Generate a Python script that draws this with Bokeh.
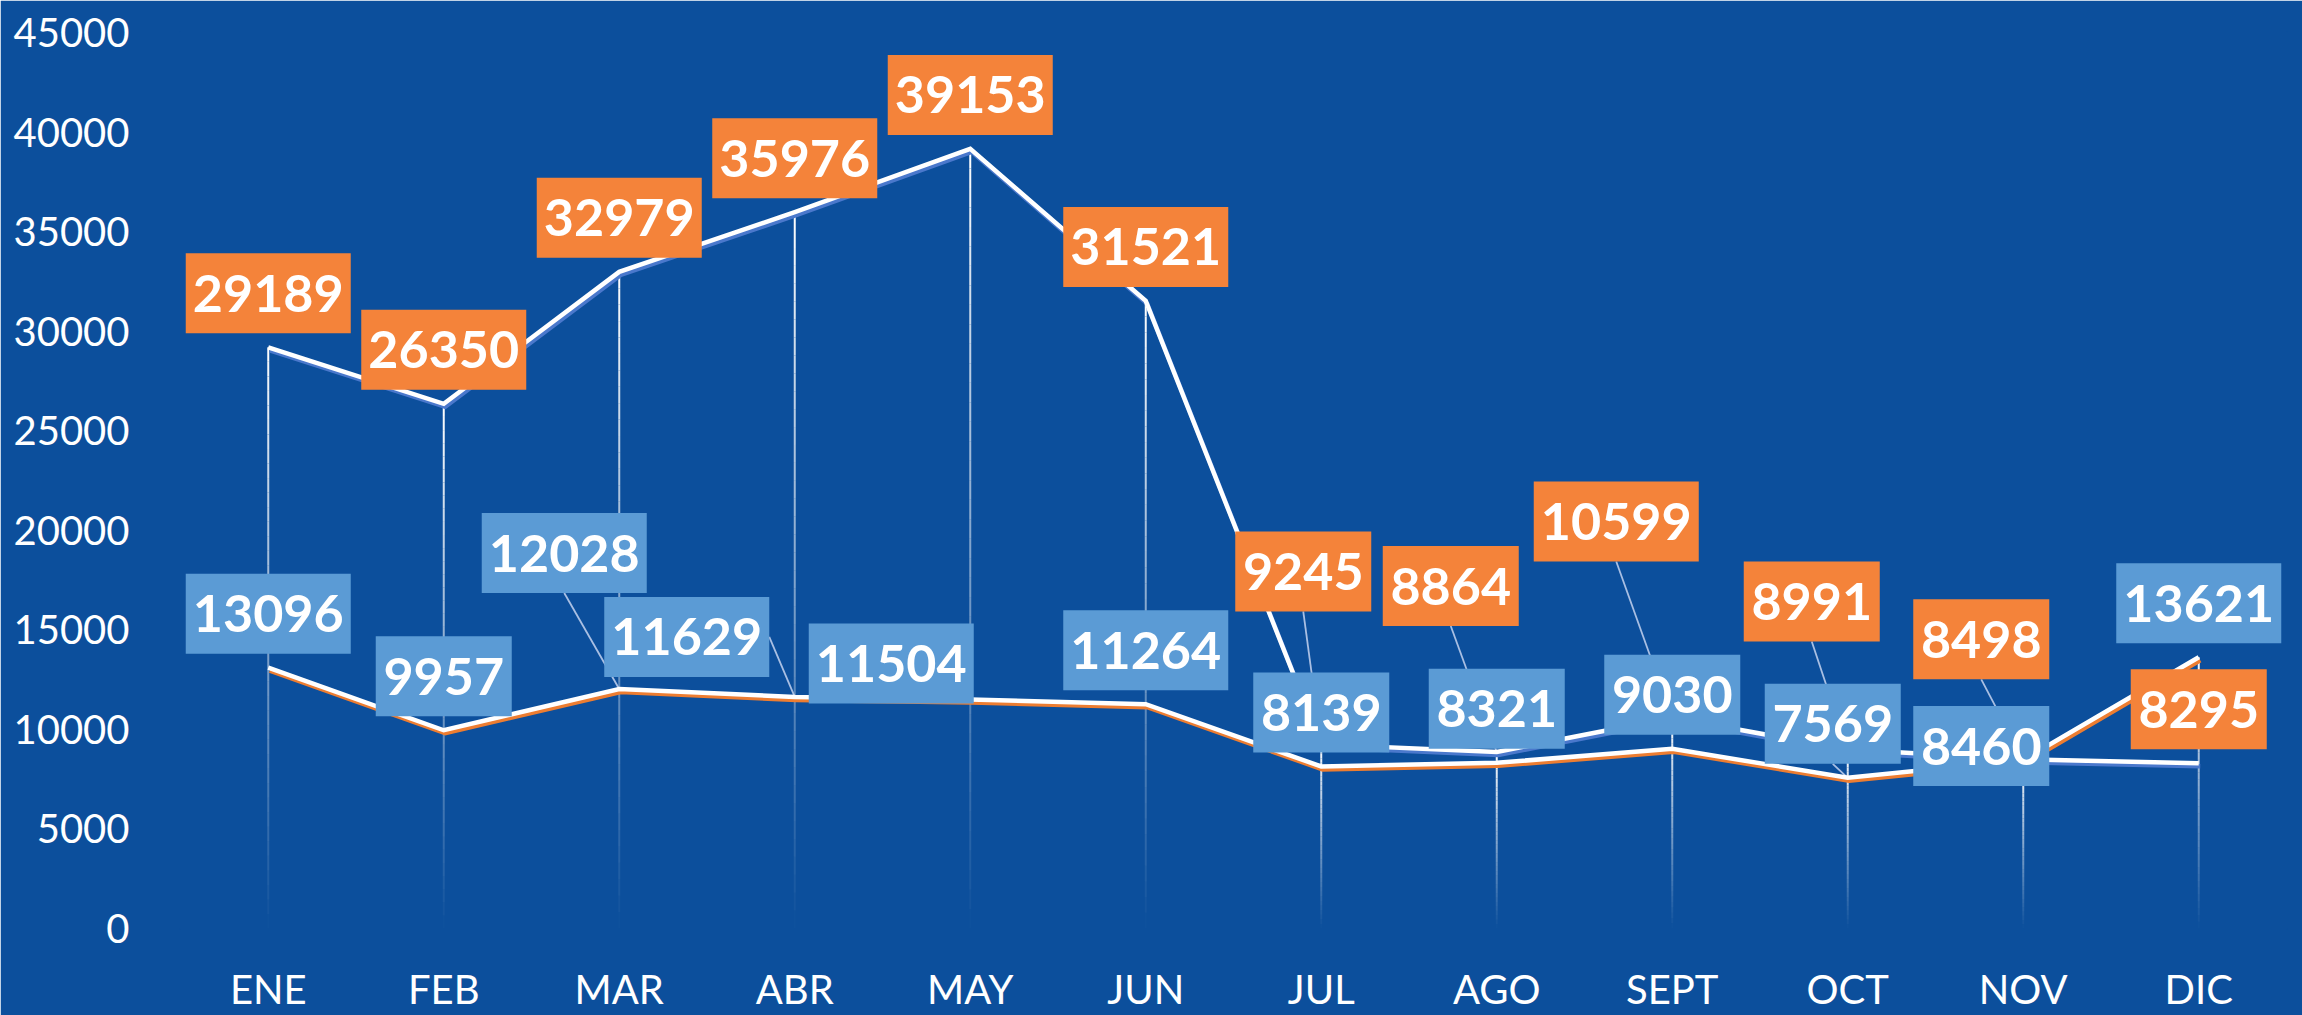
import numpy as np
from bokeh.plotting import figure
from bokeh.models import ColumnDataSource, FixedTicker, Range1d
from bokeh.core.properties import value
from bokeh.embed import file_html
from bokeh.resources import INLINE

# ---------------- data ----------------
meses = ["ENE", "FEB", "MAR", "ABR", "MAY", "JUN", "JUL", "AGO", "SEPT", "OCT", "NOV", "DIC"]
serie_naranja = [29189, 26350, 32979, 35976, 39153, 31521, 9245, 8864, 10599, 8991, 8498, 8295]
serie_azul = [13096, 9957, 12028, 11629, 11504, 11264, 8139, 8321, 9030, 7569, 8460, 13621]
y_ticks = [0, 5000, 10000, 15000, 20000, 25000, 30000, 35000, 40000, 45000]

# ---------------- layout (screen px offsets of the data-label boxes) ----------------
off_naranja = [(0, -54), (0, -54), (0, -54), (0, -54), (0, -54), (0, -54),
               (-18, -173), (-46, -166), (-56, -196), (-36, -148), (-42, -120), (0, -54)]
off_azul = [(0, -54), (0, -54), (-55, -136), (-108, -60), (-79, -36), (0, -54),
            (0, -54), (0, -54), (0, -54), (-15, -54), (-42, -14), (0, -54)]
DEFAULT_OFF = (0, -54)

BG = "#0C4F9C"
ORANGE = "#F4833A"
BLUE_BOX = "#5B9BD5"
BLUE_SHADOW = "#4A78CC"
LEADER = "#A9BFE3"
FONT = "Lato"

W, H = 2302, 1015
B_LEFT, B_RIGHT, B_TOP, B_BOTTOM = 180, 16, 32, 87
FRAME_W = W - B_LEFT - B_RIGHT
FRAME_H = H - B_TOP - B_BOTTOM
X0, X1 = -0.5, len(meses) - 0.5
Y0, Y1 = 0, 45000
PX_X = FRAME_W / (X1 - X0)        # px per x unit
PX_Y = FRAME_H / (Y1 - Y0)        # px per y unit

p = figure(width=W, height=H, output_backend="svg", toolbar_location=None,
           x_range=Range1d(X0, X1), y_range=Range1d(Y0, Y1),
           min_border_left=B_LEFT, min_border_right=B_RIGHT,
           min_border_top=B_TOP, min_border_bottom=B_BOTTOM)
p.background_fill_color = BG
p.border_fill_color = BG
p.outline_line_color = BG
p.outline_line_width = 3
p.xgrid.visible = False
p.ygrid.visible = False

xs = np.arange(len(meses), dtype=float)
a = np.array(serie_naranja, dtype=float)
b = np.array(serie_azul, dtype=float)

# ---------------- drop lines with fading gradient ----------------
N = 40
dx0, dy0, dx1, dy1, dal = [], [], [], [], []
for i in range(len(meses)):
    top = max(a[i], b[i])
    edges = np.linspace(top, 0, N + 1)
    for k in range(N):
        dx0.append(xs[i]); dx1.append(xs[i])
        dy0.append(edges[k]); dy1.append(edges[k + 1])
        dal.append(1.0 - (k + 0.5) / N)
p.segment(x0=dx0, y0=dy0, x1=dx1, y1=dy1, line_color="white", line_alpha=dal, line_width=2)

# ---------------- label geometry ----------------
def box_w(v):
    return 29 * len(str(v)) + 20

def labels(vals, offs):
    cx, cy, w, txt = [], [], [], []
    lx0, ly0, lx1, ly1 = [], [], [], []
    for i, v in enumerate(vals):
        dx, dy = offs[i]
        bw = box_w(v)
        cx.append(xs[i] + dx / PX_X)
        cy.append(v - dy / PX_Y)
        w.append(bw)
        txt.append(str(v))
        if (dx, dy) != DEFAULT_OFF:
            hw, hh = bw / 2, 40
            if abs(dx) > hw:
                sx, sy = dx - np.sign(dx) * hw, dy
            elif dy + hh < 0:
                sx, sy = dx, dy + hh
            else:
                continue
            lx0.append(xs[i] + sx / PX_X); ly0.append(v - sy / PX_Y)
            lx1.append(xs[i]); ly1.append(v)
    return cx, cy, w, txt, (lx0, ly0, lx1, ly1)

lab_a = labels(serie_naranja, off_naranja)
lab_b = labels(serie_azul, off_azul)

for lab in (lab_a, lab_b):
    lx0, ly0, lx1, ly1 = lab[4]
    if lx0:
        p.segment(x0=lx0, y0=ly0, x1=lx1, y1=ly1, line_color=LEADER, line_width=1.8)

# ---------------- lines with offset shadow ----------------
sdx, sdy = 1.5 / PX_X, -3.0 / PX_Y
p.line(xs + sdx, a + sdy, line_color=BLUE_SHADOW, line_width=4.5, line_join="miter")
p.line(xs + sdx, b + sdy, line_color="#ED7D31", line_width=4.5, line_join="miter")
p.line(xs, a, line_color="white", line_width=4.5, line_join="miter")
p.line(xs, b, line_color="white", line_width=4.5, line_join="miter")

# ---------------- data label boxes ----------------
for lab, col in ((lab_b, BLUE_BOX), (lab_a, ORANGE)):
    cx, cy, w, txt, _ = lab
    src = ColumnDataSource(dict(x=cx, y=cy, w=w, t=txt))
    p.rect(x="x", y="y", width="w", height=80, width_units="screen", height_units="screen",
           source=src, fill_color=col, line_color=None)
    p.text(x="x", y="y", text="t", source=src, text_color="white",
           text_font=value(FONT), text_font_style="bold", text_font_size="52px",
           text_align="center", text_baseline="middle")

# ---------------- axes ----------------
p.yaxis.ticker = FixedTicker(ticks=y_ticks)
p.xaxis.ticker = FixedTicker(ticks=list(range(len(meses))))
p.xaxis.major_label_overrides = {i: m for i, m in enumerate(meses)}
for ax in (p.xaxis, p.yaxis):
    ax.axis_line_color = None
    ax.major_tick_line_color = None
    ax.minor_tick_line_color = None
    ax.major_label_text_color = "white"
    ax.major_label_text_font = FONT
    ax.major_label_text_font_size = "40px"
p.yaxis.major_label_standoff = 45
p.xaxis.major_label_standoff = 30

open("out.html", "w").write(file_html(p, INLINE))
